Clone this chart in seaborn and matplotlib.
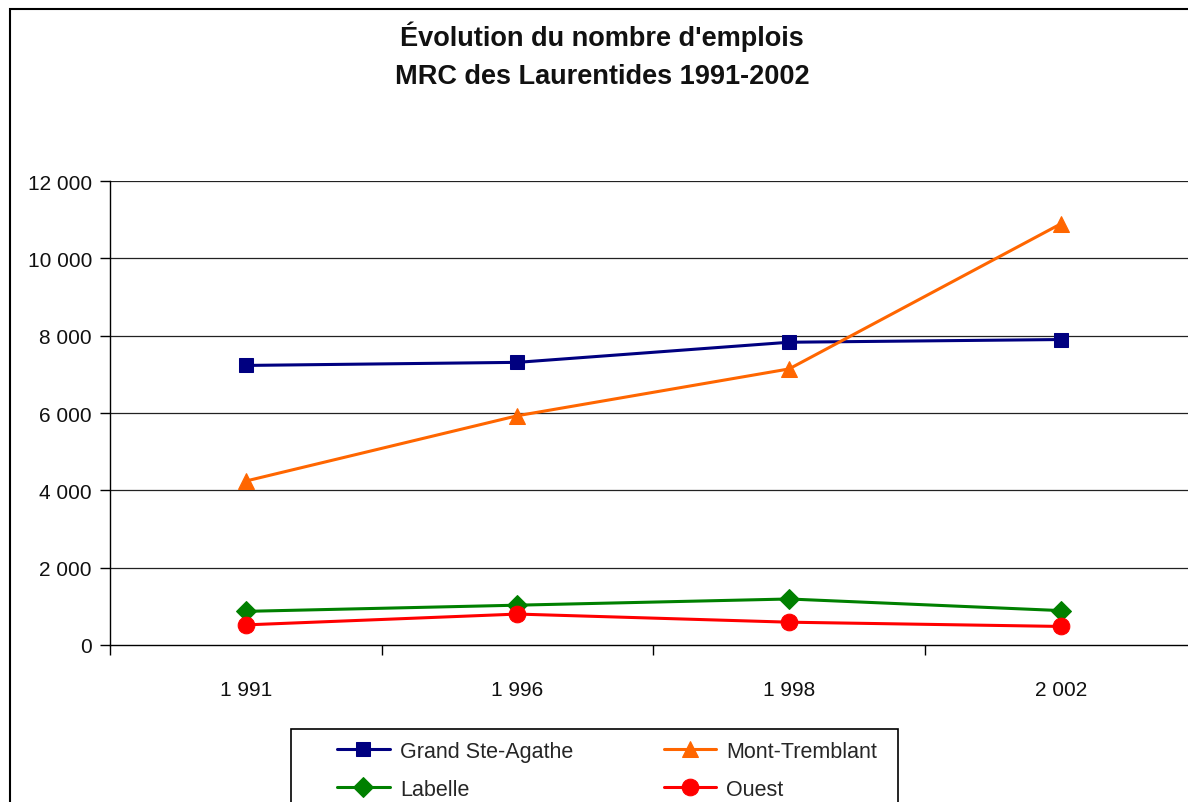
import matplotlib
matplotlib.use("Agg")
import matplotlib.pyplot as plt
import seaborn as sns
import pandas as pd
from matplotlib.patches import Rectangle

years = ["1 991", "1 996", "1 998", "2 002"]
series_names = ["Grand Ste-Agathe", "Mont-Tremblant", "Labelle", "Ouest"]
grand_ste_agathe = [7230, 7310, 7830, 7900]
mont_tremblant = [4240, 5930, 7140, 10890]
labelle = [870, 1030, 1190, 890]
ouest = [520, 800, 590, 480]
yticks = [0, 2000, 4000, 6000, 8000, 10000, 12000]
ytick_labels = ["0", "2 000", "4 000", "6 000", "8 000", "10 000", "12 000"]

colors = ["#000080", "#FF6600", "#008000", "#FF0000"]
markers = ["s", "^", "D", "o"]
msizes = [10, 11, 10, 12]

sns.set_theme(style="white")
plt.rcParams['font.family'] = ['Liberation Sans', 'DejaVu Sans']

W, H = 1188, 803
fig = plt.figure(figsize=(W / 100, H / 100), dpi=100)
fig.patch.set_facecolor("white")

ax = fig.add_axes([110 / W, (H - 646) / H, (1196.5 - 110) / W, (646 - 182) / H])

values = [grand_ste_agathe, mont_tremblant, labelle, ouest]
rows = []
for name, vals in zip(series_names, values):
    for i, v in enumerate(vals):
        rows.append({"x": i, "value": v, "serie": name})
df = pd.DataFrame(rows)

for name, c, m, ms in zip(series_names, colors, markers, msizes):
    sub = df[df["serie"] == name]
    sns.lineplot(data=sub, x="x", y="value", ax=ax, color=c, marker=m,
                 markersize=ms, markeredgecolor=c, linewidth=2.2, label=name,
                 clip_on=False)

ax.set_xlim(-0.5, 3.5)
ax.set_ylim(0, 12000)
ax.set_yticks(yticks)
ax.set_yticklabels(ytick_labels, fontsize=15)
ax.set_xticks(range(4))
ax.set_xticklabels(years, fontsize=15)
ax.set_xticks([-0.5, 0.5, 1.5, 2.5, 3.5], minor=True)
ax.tick_params(axis="x", which="major", length=0, pad=25)
ax.tick_params(axis="x", which="minor", length=7, width=1, color="black", direction="out", bottom=True)
ax.tick_params(axis="y", length=7, width=1, color="black", direction="out", left=True, pad=6)
for t in ax.get_yticklabels() + ax.get_xticklabels():
    t.set_color("#111111")
ax.set_xlabel("")
ax.set_ylabel("")
for yv in yticks[1:]:
    ax.axhline(yv, color="#222222", linewidth=0.9, zorder=0)
for s in ["top", "right"]:
    ax.spines[s].set_visible(False)
ax.spines["left"].set_color("black")
ax.spines["bottom"].set_color("black")
ax.spines["left"].set_linewidth(1)
ax.spines["bottom"].set_linewidth(1)
ax.set_facecolor("none")

fig.text(0.507, 1 - 37 / H, "Évolution du nombre d'emplois", ha="center", va="center",
         fontsize=19.5, fontweight="bold", color="#111111")
fig.text(0.507, 1 - 77 / H, "MRC des Laurentides 1991-2002", ha="center", va="center",
         fontsize=19.5, fontweight="bold", color="#111111")

handles, labels = ax.get_legend_handles_labels()
ax.get_legend().remove()
order = [0, 2, 1, 3]
leg = fig.legend([handles[i] for i in order], [labels[i] for i in order], ncol=2,
                 loc="upper left", bbox_to_anchor=(337 / W, 1 - 742 / H), fontsize=15.5,
                 frameon=False, handlelength=2.45, columnspacing=4.2, borderpad=0,
                 labelspacing=0.78, handletextpad=0.47, borderaxespad=0)

fig.patches.append(Rectangle((291 / W, -0.1), 607 / W, 0.1 + (H - 730) / H,
                             transform=fig.transFigure, fill=False, edgecolor="black",
                             linewidth=1.2))
fig.patches.append(Rectangle((10 / W, -0.1), 1.2, 1.1 - 10 / H, transform=fig.transFigure,
                             fill=False, edgecolor="black", linewidth=1.5, zorder=-1))

fig.savefig("out.png", dpi=100)
